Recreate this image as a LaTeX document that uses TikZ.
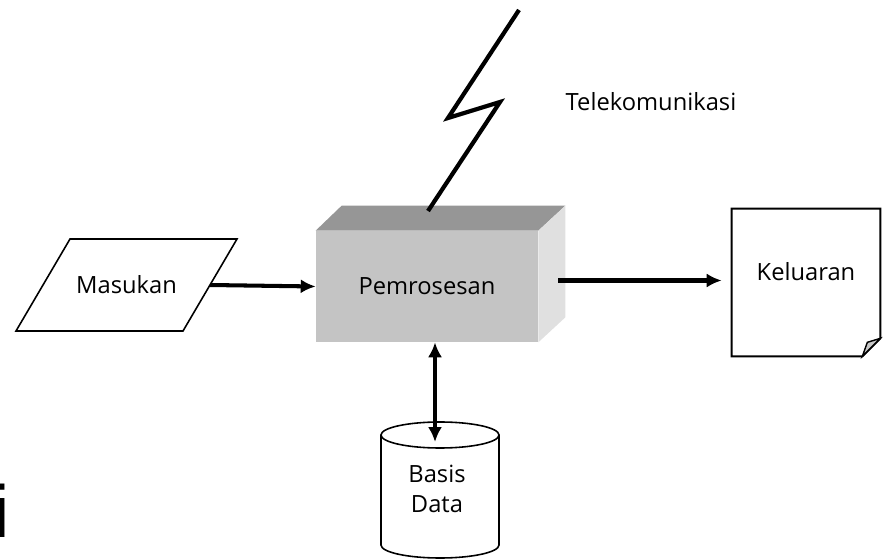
\documentclass[tikz,border=0pt]{standalone}
\usepackage{fontspec}
\setmainfont{Open Sans}
\newfontfamily\slidefont{Liberation Sans}
\usetikzlibrary{arrows.meta,calc,positioning,shapes.geometric}
\definecolor{FrontGray}{HTML}{C4C4C4}
\definecolor{TopGray}{HTML}{969696}
\definecolor{SideGray}{HTML}{E0E0E0}
\definecolor{FoldGray}{HTML}{C8C8C8}

\begin{document}
\begin{tikzpicture}[x=.02cm,y=-.02cm,
    lbl/.style={font=\fontsize{13.5}{17}\selectfont},
    outline/.style={draw,line width=.9pt},
    arr/.style={line width=2.3pt,-{Latex[length=8.5pt,width=8pt]}},
    darr/.style={line width=2.3pt,{Latex[length=8.5pt,width=8pt]}-{Latex[length=8.5pt,width=8pt]}}]
  \useasboundingbox (0,0) rectangle (886,560);
  % box
  \node[fill=FrontGray,minimum width=4.44cm,minimum height=2.22cm,lbl] (proc) at (427,286.5) {Pemrosesan};
  \fill[TopGray] (proc.north west) -- ++(26,-25) -- ($(proc.north east)+(27,-25)$) -- (proc.north east) -- cycle;
  \fill[SideGray] (proc.north east) -- ++(27,-25) -- ($(proc.south east)+(27,-25)$) -- (proc.south east) -- cycle;
  \draw[line width=2.4pt] (519,10) -- (448,118) -- (500,102) -- (428,211);
  \node[lbl] (tele) at (651,102) {Telekomunikasi};
  % input
  \coordinate (in) at (126.5,285);
  \draw[outline,fill=white] ($(in)+(-56.5,-46)$) -- ($(in)+(110.5,-46)$) coordinate (inTR)
    -- ($(in)+(56.5,46)$) coordinate (inBR) -- ($(in)+(-110.5,46)$) -- cycle;
  \node[lbl] (intxt) at (in) {Masukan};
  \draw[arr] ($(inTR)!.5!(inBR)$) -- (proc.west);
  % output
  \node[minimum width=2.96cm,minimum height=2.94cm,inner sep=0] (out) at (806,282.5) {};
  \draw[line width=1.1pt,fill=white] (out.south west) -- (out.north west) -- (out.north east)
    -- ($(out.south east)+(0,-18)$) -- ($(out.south east)+(-18,0)$) -- cycle;
  \draw[line width=.8pt,fill=FoldGray] ($(out.south east)+(-18,0)$) -- ($(out.south east)+(-13,-14)$) -- ($(out.south east)+(0,-18)$) -- cycle;
  \node[lbl] (outtxt) at (806,272) {Keluaran};
  \draw[arr] ($(proc.east)+(20,-6)$) -- ($(out.west)+(-10,-2)$);
  % database
  \draw[outline,fill=white] (381,435) -- (381,545) arc[start angle=180,end angle=0,x radius=59,y radius=13] -- (499,435);
  \draw[outline,fill=white] (440,435) ellipse[x radius=59,y radius=13];
  \coordinate (dbtop) at (435,442);
  \node[lbl,align=center] (db) at (437,489) {Basis\\Data};
  \draw[darr] ($(proc.south)+(8,0)$) -- (dbtop);
  \node[anchor=base west,inner sep=0,font=\slidefont\fontsize{42}{42}\selectfont] (slide) at (-7,538) {i};
\end{tikzpicture}
\end{document}
